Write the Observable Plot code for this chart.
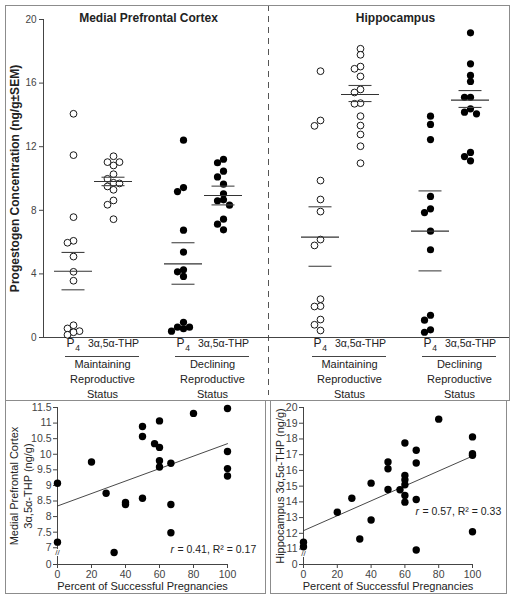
<!DOCTYPE html>
<html><head><meta charset="utf-8">
<script src="https://cdn.jsdelivr.net/npm/d3@7"></script>
<script src="https://cdn.jsdelivr.net/npm/@observablehq/plot@0.6"></script>
<style>
body{margin:0;background:#fff;}
#wrap{position:relative;width:514px;height:600px;font-family:"Liberation Sans",Arial,sans-serif;}
.panel{position:absolute;}
.border{position:absolute;border:1px solid #8c8c8c;box-sizing:border-box;pointer-events:none;}
</style></head><body><div id="wrap"></div>
<script>
// ---------- Top panel data ----------
const regions = ["Medial Prefrontal Cortex", "Hippocampus"];
const statuses = ["Maintaining", "Declining"];
const compounds = ["P4", "3α,5α-THP"];

const mpcMaintainingP4  = [14.07, 11.47, 7.57, 6.08, 5.96, 5.09, 4.13, 3.57, 0.77, 0.57, 0.40, 0.33, 0.17];
const mpcMaintainingTHP = [11.40, 11.03, 11.03, 10.82, 10.27, 9.98, 9.73, 9.69, 9.50, 9.29, 8.62, 8.35, 7.44];
const mpcDecliningP4    = [12.41, 9.43, 9.18, 6.75, 5.37, 4.26, 4.13, 3.84, 0.96, 0.65, 0.65, 0.55, 0.40];
const mpcDecliningTHP   = [11.21, 10.99, 10.46, 10.10, 9.64, 9.04, 8.66, 8.60, 8.32, 7.44, 7.13, 6.77];
const hipMaintainingP4  = [16.75, 13.65, 13.31, 9.87, 8.68, 7.92, 6.16, 5.79, 2.41, 1.97, 1.95, 1.13, 0.80, 0.44];
const hipMaintainingTHP = [18.16, 17.78, 17.04, 16.90, 16.42, 15.60, 15.41, 14.74, 14.70, 13.92, 13.33, 12.77, 12.03, 10.96];
const hipDecliningP4    = [13.92, 13.40, 12.45, 8.87, 8.09, 7.86, 6.69, 5.52, 1.40, 1.09, 0.48, 0.33];
const hipDecliningTHP   = [19.16, 17.21, 16.48, 16.10, 15.11, 15.11, 14.38, 14.17, 14.07, 11.64, 11.38, 11.11];

// group order: region x status x compound
const groupValues = [mpcMaintainingP4, mpcMaintainingTHP, mpcDecliningP4, mpcDecliningTHP,
                     hipMaintainingP4, hipMaintainingTHP, hipDecliningP4, hipDecliningTHP];
const groupMeans    = [4.17, 9.81, 4.63, 8.93, 6.31, 15.28, 6.69, 14.93];
const groupSemUpper = [5.35, 10.08, 5.96, 9.52, 8.22, 15.85, 9.22, 15.53];
const groupSemLower = [3.00, 9.55, 3.35, 8.34, 4.48, 14.84, 4.19, 14.47];
const topYTicks = [0, 4, 8, 12, 16, 20];
const topYLabel = "Progestogen Concentration (ng/g±SEM)";
const statusLabels = ["Maintaining\nReproductive\nStatus", "Declining\nReproductive\nStatus"];

// ---------- Bottom panels data ----------
const mpcPercent = [0, 0, 20, 28.6, 33.3, 40, 40, 50, 50, 50, 57.1, 60, 60, 60, 60, 66.7, 66.7, 66.7, 80, 100, 100, 100, 100];
const mpcTHP     = [9.07, 7.18, 9.75, 8.75, 6.85, 8.45, 8.39, 10.89, 10.57, 8.59, 10.34, 10.22, 11.07, 9.79, 9.59, 9.71, 8.39, 7.48, 11.31, 11.47, 10.09, 9.54, 9.30];
const mpcFit = {intercept: 8.34, slope: 0.0200};
const mpcStat = ["r", " = 0.41, R² = 0.17"];
const mpcYTicks = [0, 7, 7.5, 8, 8.5, 9, 9.5, 10, 10.5, 11, 11.5];
const mpcYLabel = "Medial Prefrontal Cortex\n3α,5α-THP (ng/g)";

const hipPercent = [0, 0, 20, 28.6, 33.3, 40, 40, 50, 50, 50, 57.1, 60, 60, 60, 60, 60, 60, 66.7, 66.7, 66.7, 66.7, 80, 100, 100, 100, 100];
const hipTHP     = [11.43, 11.15, 13.34, 14.23, 11.64, 15.19, 12.85, 16.53, 16.11, 14.79, 14.77, 17.74, 15.68, 15.40, 15.09, 14.40, 13.98, 17.28, 16.47, 14.15, 10.94, 19.26, 18.13, 17.06, 16.96, 12.10];
const hipFit = {intercept: 12.17, slope: 0.0474};
const hipStat = ["r", " = 0.57, R² = 0.33"];
const hipYTicks = [0, 11, 12, 13, 14, 15, 16, 17, 18, 19, 20];
const hipYLabel = "Hippocampus 3α,5α-THP (ng/g)";

const xTicks = [0, 20, 40, 60, 80, 100];
const xLabel = "Percent of Successful Pregnancies";

// ---------- layout ----------
const FONT = "'Liberation Sans', Arial, sans-serif";
const wrap = document.getElementById("wrap");
function place(node, x, y) {
  const d = document.createElement("div");
  d.className = "panel"; d.style.left = x + "px"; d.style.top = y + "px";
  d.appendChild(node); wrap.appendChild(d);
}
function border(x, y, w, h) {
  const d = document.createElement("div");
  d.className = "border";
  Object.assign(d.style, {left: x + "px", top: y + "px", width: w + "px", height: h + "px"});
  wrap.appendChild(d);
}

// top panel layout (x in px-units from the y axis)
const regionX = [0, 247], statusX = [50, 160], compoundX = [-20, 20];
const dividerX = 225;
const topH = 400, topMT = 19, topMB = 63;
const pxPerUnit = (topH - topMT - topMB) / 20;

function dodge(values) {
  const placed = [], out = new Array(values.length);
  const sorted = values.map((v, i) => ({v, i})).sort((a, b) => b.v - a.v);
  for (const p of sorted) {
    const py = p.v * pxPerUnit;
    let chosen = 0;
    for (const off of [0, -6, 6, -12, 12]) {
      if (placed.every(q => Math.hypot(q.x - off, q.y - py) >= 6)) { chosen = off; break; }
    }
    placed.push({x: chosen, y: py}); out[p.i] = chosen;
  }
  return out;
}

const groups = [];
const points = [];
let gi = 0;
for (let r = 0; r < 2; r++) for (let s = 0; s < 2; s++) for (let c = 0; c < 2; c++) {
  const cx = regionX[r] + statusX[s] + compoundX[c];
  const vals = groupValues[gi];
  groups.push({r, s, c, cx, mean: groupMeans[gi], hi: groupSemUpper[gi], lo: groupSemLower[gi]});
  const offs = dodge(vals);
  vals.forEach((v, i) => points.push({s, x: cx + offs[i], y: v}));
  gi++;
}
const pairs = [];
for (let r = 0; r < 2; r++) for (let s = 0; s < 2; s++) pairs.push({r, s, cx: regionX[r] + statusX[s]});
const titles = regions.map((name, r) => ({name, x: regionX[r] + 105}));

const ink = "#222", axisInk = "#444";

const topChart = Plot.plot({
  width: 514, height: topH,
  marginLeft: 43, marginRight: 4, marginTop: topMT, marginBottom: topMB,
  style: {fontFamily: FONT, background: "transparent"},
  x: {domain: [0, 467], axis: null},
  y: {domain: [0, 20], axis: null},
  marks: [
    Plot.ruleX([dividerX], {stroke: "#555", strokeDasharray: "6,5", insetTop: -14, insetBottom: -58}),
    Plot.ruleX([0], {stroke: axisInk}),
    Plot.ruleY([0], {stroke: axisInk}),
    Plot.axisY({ticks: topYTicks, tickSize: 4, tickPadding: 3, fontSize: 10, color: axisInk, label: null}),
    Plot.text([topYLabel], {text: d => d, frameAnchor: "left", textAnchor: "middle", rotate: -90, dx: -28, fontSize: 12, fontWeight: "bold", fill: ink}),
    Plot.text(titles, {x: "x", text: "name", frameAnchor: "top", dy: -6, fontSize: 12, fontWeight: "bold", fill: ink}),
    // compound labels
    Plot.text(groups.filter(g => g.c === 0), {x: "cx", text: () => "P", frameAnchor: "bottom", dx: -3, dy: 9, fontSize: 12, fill: ink}),
    Plot.text(groups.filter(g => g.c === 0), {x: "cx", text: () => "4", frameAnchor: "bottom", dx: 4, dy: 13, fontSize: 8.5, fill: ink}),
    Plot.text(groups.filter(g => g.c === 1), {x: "cx", text: () => compounds[1], frameAnchor: "bottom", dy: 9, fontSize: 10.5, fill: ink}),
    Plot.ruleY(pairs, {y: () => 0, x1: d => d.cx - 28, x2: d => d.cx + 46, dy: 19, stroke: axisInk}),
    Plot.text(pairs, {x: d => d.cx + 9, text: d => statusLabels[d.s], frameAnchor: "bottom", lineAnchor: "top", dy: 20, lineHeight: 1.36, fontSize: 11, fill: ink}),
    // points
    Plot.dot(points.filter(p => p.s === 0), {x: "x", y: "y", r: 3.4, stroke: "#000", strokeWidth: 0.9, fill: "white"}),
    Plot.dot(points.filter(p => p.s === 1), {x: "x", y: "y", r: 3.6, fill: "#000"}),
    // mean and SEM
    Plot.ruleY(groups, {y: "mean", x1: d => d.cx - 19, x2: d => d.cx + 19, stroke: "#333", strokeWidth: 1.1}),
    Plot.ruleY(groups, {y: "hi", x1: d => d.cx - 11.5, x2: d => d.cx + 11.5, stroke: "#444", strokeWidth: 1.1}),
    Plot.ruleY(groups, {y: "lo", x1: d => d.cx - 11.5, x2: d => d.cx + 11.5, stroke: "#444", strokeWidth: 1.1})
  ]
});
place(topChart, 0, 0);
border(5, 5, 505, 396);

// ---------- bottom panels ----------
function scatterPanel({percent, values, fit, stat, yTicks, lo, zeroAt, yMax, yLabel, labelDx,
                       width, mL, mR, statDx, statDy, breakDy}) {
  const brk = v => v >= lo ? v : zeroAt + v * (lo - zeroAt) / lo;
  const inv = d => d >= lo ? d : (d - zeroAt) * lo / (lo - zeroAt);
  const fmt = v => String(Math.round(v * 10) / 10);
  const pts = percent.map((x, i) => ({x, y: values[i]}));
  const fitLine = [0, 100].map(x => ({x, y: fit.intercept + fit.slope * x}));
  return Plot.plot({
    width, height: 193, marginLeft: mL, marginRight: mR, marginTop: 7, marginBottom: 29,
    style: {fontFamily: FONT, background: "transparent"},
    x: {domain: [0, 100], axis: null},
    y: {domain: [zeroAt, yMax], axis: null},
    marks: [
      Plot.ruleX([0], {stroke: axisInk}),
      Plot.ruleY([zeroAt], {x1: 0, x2: 100, stroke: axisInk}),
      Plot.axisY(yTicks.map(brk), {tickFormat: d => fmt(inv(d)), tickSize: 4, tickPadding: 2, fontSize: 10.5, color: axisInk, label: null}),
      Plot.axisX({ticks: xTicks, tickSize: 4, tickPadding: 2, fontSize: 10.5, color: axisInk, label: null}),
      Plot.text(["//"], {x: 0, text: d => d, frameAnchor: "bottom", dy: breakDy, fontSize: 8, fill: "#333", stroke: "white", strokeWidth: 2}),
      Plot.text([yLabel], {text: d => d, frameAnchor: "left", textAnchor: "middle", rotate: -90, dx: labelDx, fontSize: 11, lineHeight: 1.25, fill: ink}),
      Plot.text([xLabel], {text: d => d, frameAnchor: "bottom", dy: 25, fontSize: 11, fill: ink}),
      Plot.line(fitLine, {x: "x", y: d => brk(d.y), stroke: "#333", strokeWidth: 0.9}),
      Plot.dot(pts, {x: "x", y: d => brk(d.y), r: 3.7, fill: "#000"}),
      Plot.text([stat[0]], {text: d => d, frameAnchor: "bottom-left", textAnchor: "start", dx: statDx, dy: statDy, fontSize: 10.5, fontStyle: "italic", fill: ink}),
      Plot.text([stat[1]], {text: d => d, frameAnchor: "bottom-left", textAnchor: "start", dx: statDx + 4, dy: statDy, fontSize: 10.5, fill: ink})
    ]
  });
}

const leftChart = scatterPanel({percent: mpcPercent, values: mpcTHP, fit: mpcFit, stat: mpcStat, yTicks: mpcYTicks,
  lo: 6.5, zeroAt: 6.463, yMax: 11.5, yLabel: mpcYLabel, labelDx: -37,
  width: 261, mL: 52, mR: 39, statDx: 113, statDy: -12, breakDy: -10});
place(leftChart, 5, 400);
border(5, 400, 261, 194);

const rightChart = scatterPanel({percent: hipPercent, values: hipTHP, fit: hipFit, stat: hipStat, yTicks: hipYTicks,
  lo: 10.5, zeroAt: 10.017, yMax: 20, yLabel: hipYLabel, labelDx: -24,
  width: 236, mL: 33, mR: 34, statDx: 112, statDy: -50, breakDy: -9});
place(rightChart, 270, 400);
border(270, 400, 237, 194);
</script>
</body></html>
